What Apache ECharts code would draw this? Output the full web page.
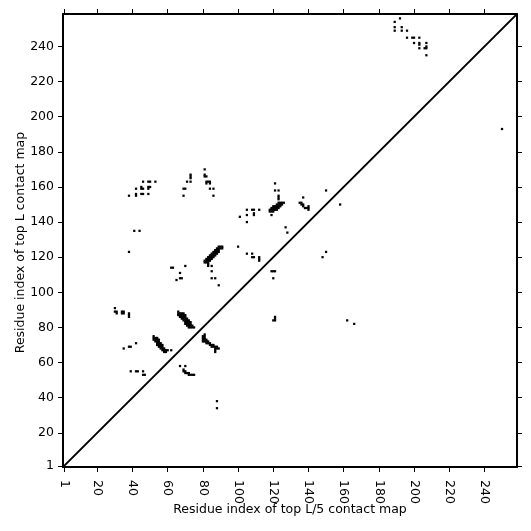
<!DOCTYPE html>
<html>
<head>
<meta charset="utf-8">
<style>html,body{margin:0;padding:0;background:#fff}#c{width:531px;height:531px}</style>
<script src="https://cdn.jsdelivr.net/npm/echarts@6/dist/echarts.min.js"></script>
</head>
<body>
<div id="c"></div>
<script>
const residueCount = 258;
const tickLabels = [1,20,40,60,80,100,120,140,160,180,200,220,240];
const xTitle = 'Residue index of top L/5 contact map';
const yTitle = 'Residue index of top L contact map';
const diagonal = [[1,1],[258,258]];

const cluster30 = [[30,91],[30,89],[31,88],[31,89],[34,88],[34,89],[35,88],[35,89],[38,88],[38,86],[38,87],
  [42,71],[38,69],[39,69],[35,68],[39,55],[42,55],[43,55],[46,55],[46,53],[47,53]];
const cluster52 = [[52,75],[52,74],[53,74],[54,74],[52,73],[53,73],[54,73],[55,73],[53,72],[54,72],[55,72],[54,71],[55,71],[56,71],
  [54,70],[55,70],[56,70],[57,70],[55,69],[56,69],[57,69],[56,68],[57,68],[58,68],[57,67],[58,67],[59,67],[60,67],[62,67],[58,66],[59,66]];
const cluster66 = [[66,89],[66,88],[67,88],[68,88],[69,88],[66,87],[67,87],[68,87],[69,87],[70,87],[67,86],[68,86],[69,86],[70,86],
  [68,85],[69,85],[70,85],[71,85],[69,84],[70,84],[71,84],[72,84],[70,83],[71,83],[72,83],[73,83],[70,82],[71,82],[72,82],[73,82],
  [71,81],[72,81],[73,81],[74,81],[72,80],[73,80],[74,80],[75,80]];
const cluster67low = [[67,58],[70,58],[69,56],[69,55],[70,55],[70,54],[71,54],[72,54],[72,53],[73,53],[74,53],[75,53]];
const cluster80 = [[81,76],[80,75],[81,75],[80,74],[81,74],[80,73],[81,73],[82,73],[80,72],[81,72],[82,72],[83,72],[82,71],[83,71],[84,71],
  [84,70],[85,70],[86,70],[85,69],[86,69],[87,69],[88,69],[87,68],[88,68],[89,68],[87,67],[87,66],[88,38],[88,34]];
const cluster81 = [[89,126],[90,126],[91,126],[88,125],[89,125],[90,125],[91,125],[87,124],[88,124],[89,124],[86,123],[87,123],[88,123],[89,123],
  [85,122],[86,122],[87,122],[88,122],[84,121],[85,121],[86,121],[87,121],[83,120],[84,120],[85,120],[86,120],[82,119],[83,119],[84,119],[85,119],
  [81,118],[82,118],[83,118],[84,118],[81,117],[82,117],[83,117],[83,116],[83,115],[85,115],[85,112],[85,108],[87,108],[89,104]];
const cluster62 = [[62,114],[63,114],[70,115],[67,111],[67,108],[68,108],[65,107],[38,123],[41,135],[44,135]];
const cluster38 = [[38,155],[42,156],[42,155],[42,159],[45,156],[46,156],[49,156],[45,160],[46,159],[45,159],[49,160],[50,160],[49,159],
  [46,163],[49,163],[50,163],[53,163]];
const cluster69 = [[69,155],[69,159],[70,159],[71,163],[73,163],[73,165],[73,166],[73,167],[81,170],[81,167],[81,166],[82,166],
  [82,163],[82,162],[84,163],[84,162],[83,163],[84,159],[86,159],[86,155]];
const cluster100 = [[105,147],[108,147],[109,147],[112,147],[105,144],[109,145],[109,144],[101,143],[105,140],[100,126],[105,122],[108,122],
  [108,120],[109,120],[112,120],[112,119],[112,118],[119,112],[120,112],[121,112],[120,108],[120,84],[121,84],[121,85],[121,86]];
const cluster118 = [[123,151],[124,151],[125,151],[126,151],[122,150],[123,150],[124,150],[125,150],[120,149],[121,149],[122,149],[123,149],[124,149],
  [119,148],[120,148],[121,148],[122,148],[123,148],[118,147],[119,147],[120,147],[121,147],[122,147],[118,146],[119,146],[120,146],[119,144],
  [121,162],[121,158],[123,158],[123,155],[123,154],[123,153],[127,137],[128,134]];
const cluster135 = [[137,154],[135,151],[136,151],[136,150],[137,150],[137,149],[138,148],[139,148],[140,149],[140,148],[140,147],
  [150,158],[158,150],[150,123],[148,120],[162,84],[166,82],[250,193]];
const cluster189 = [[192,256],[189,254],[189,251],[193,251],[189,249],[193,249],[196,249],[196,245],[199,245],[200,245],[203,245],
  [200,242],[203,242],[203,241],[207,242],[203,239],[206,239],[207,239],[207,240],[207,235]];

const contacts = [cluster30,cluster52,cluster66,cluster67low,cluster80,cluster81,cluster62,cluster38,cluster69,cluster100,cluster118,cluster135,cluster189].flat();
const residues = Array.from({length:residueCount},(_,i)=>String(i+1));
const isTick = (i,v)=>tickLabels.includes(Number(v));
const font = {fontFamily:'DejaVu Sans',fontSize:12.5,color:'#000'};

function cat(position,extra){
  return Object.assign({
    type:'category',data:residues,position,boundaryGap:true,
    axisLine:{show:true,lineStyle:{color:'#000',width:2}},
    axisTick:{show:true,interval:isTick,alignWithLabel:true,length:5,lineStyle:{color:'#000',width:1}},
    splitLine:{show:false},splitArea:{show:false}
  },extra);
}
const chart = echarts.init(document.getElementById('c'),null,{renderer:'canvas'});
chart.setOption({
  animation:false,
  backgroundColor:'#fff',
  grid:{left:63,right:14,top:14,bottom:64,containLabel:false,outerBoundsMode:'none'},
  xAxis:[
    cat('bottom',{name:xTitle,nameLocation:'middle',nameGap:36,nameMoveOverlap:false,nameTextStyle:{fontFamily:'DejaVu Sans',fontSize:12.5,color:'#000'},
      axisLabel:Object.assign({},font,{show:true,interval:isTick,rotate:-90,margin:13,align:'left',verticalAlign:'middle'})}),
    cat('top',{axisLabel:{show:false}})
  ],
  yAxis:[
    cat('left',{name:yTitle,nameLocation:'middle',nameGap:36,nameMoveOverlap:false,nameTextStyle:{fontFamily:'DejaVu Sans',fontSize:12.5,color:'#000',padding:[0,4,0,0]},
      axisLabel:Object.assign({},font,{show:true,interval:isTick,margin:9})}),
    cat('right',{axisLabel:{show:false}})
  ],
  visualMap:{show:false,type:'piecewise',seriesIndex:0,pieces:[{value:1,color:'#000'}]},
  series:[
    {type:'heatmap',data:contacts.map(p=>[p[0]-1,p[1]-1,1]),itemStyle:{color:'#000'},emphasis:{disabled:true},silent:true,progressive:0},
    {type:'line',data:diagonal.map(p=>[p[0]-1,p[1]-1]),symbol:'none',lineStyle:{color:'#000',width:2},silent:true,z:3}
  ]
});
</script>
</body>
</html>
